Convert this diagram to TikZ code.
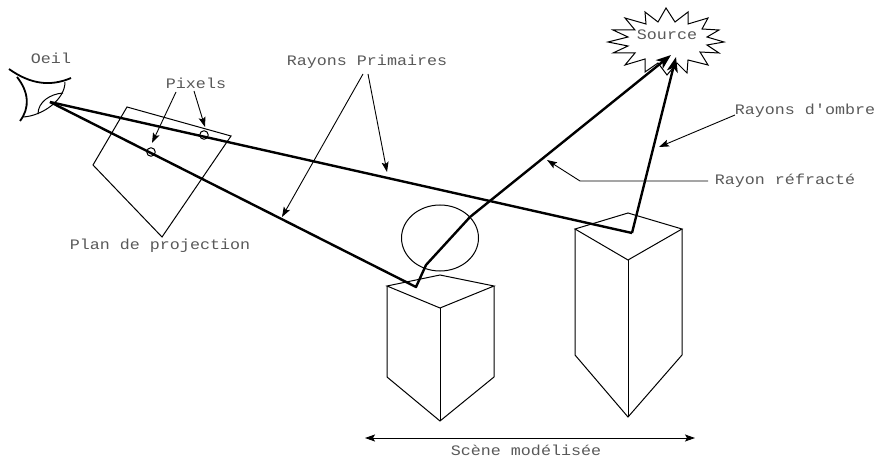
\documentclass[tikz,border=0pt]{standalone}
\usepackage{fontspec}
\setmonofont[FakeStretch=1.15]{Liberation Mono}
\usetikzlibrary{arrows.meta}

\begin{document}
\begin{tikzpicture}[
    x=1pt, y=-1pt,
    edge/.style={line width=1pt, black},
    ray/.style={line width=2.4pt, black, line join=round},
    raytip/.style={ray, -{Stealth[length=15pt, width=11pt, inset=4pt]}},
    pointer/.style={line width=0.9pt, black, -{Stealth[length=10pt, width=7pt, inset=2pt]}},
    pointerboth/.style={line width=0.9pt, black, {Stealth[length=10pt, width=7pt, inset=2pt]}-{Stealth[length=10pt, width=7pt, inset=2pt]}},
    caption/.style={font=\ttfamily\fontsize{14.5}{16}\selectfont, text=black!65, inner sep=0pt},
    pixel/.style={circle, draw=black, line width=1pt, minimum size=8.5pt, inner sep=0pt}
]
\useasboundingbox (0,0) rectangle (875,457);

%=== EYE ===
\coordinate (eye) at (50,102);
\draw[line width=1.8pt] (9,69) .. controls (30,84) and (50,87) .. (71,78);
\draw[line width=1.8pt] (17,77) .. controls (29,92) and (30,108) .. (20,121);
\draw[edge] (65,82) .. controls (65,100) and (42,116) .. (23,117);
\draw[edge] (63,93) .. controls (50,94) and (38,102) .. (38,114);

%=== PROJECTION PLANE ===
\draw[edge] (127,107) -- (231,136) -- (162,237) -- (93,165) -- cycle;
\node[pixel] (pixA) at (151,152) {};
\node[pixel] (pixB) at (204,135) {};

%=== SOURCE ===
\draw[edge] (666,8) -- (675,22) -- (688,12) -- (688,24) -- (708,18) -- (702,29)
    -- (719,30) -- (707,37) -- (724,42) -- (707,45) -- (719,53) -- (700,52)
    -- (708,65) -- (688,60) -- (687,73) -- (677,63) -- (667,75) -- (658,63)
    -- (645,72) -- (645,59) -- (625,65) -- (635,53) -- (613,53) -- (628,46)
    -- (608,42) -- (628,37) -- (613,30) -- (635,30) -- (625,18) -- (646,24)
    -- (645,12) -- (658,22) -- cycle;
\node[caption] (source) at (667,35) {Source};

%=== LEFT PRISM AND SPHERE ===
\draw[edge] (440,238) ellipse (38.5 and 33);
\draw[edge] (387,286) -- (440,275) -- (494,286) -- (440,308) -- cycle;
\draw[edge] (387,286) -- (387,377) -- (440,421) -- (494,377) -- (494,286);
\draw[edge] (440,308) -- (440,421);

%=== RIGHT PRISM ===
\draw[edge] (575,229) -- (628,213) -- (682,229) -- (628,260) -- cycle;
\draw[edge] (575,229) -- (575,355) -- (628,417) -- (682,355) -- (682,229);
\draw[edge] (628,260) -- (628,417);

%=== RAYS ===
\coordinate (hitL) at (416,287);
\coordinate (bendIn) at (426,265);
\coordinate (bendOut) at (470,217);
\coordinate (hitR) at (632,233);
\coordinate (tipL) at (671,55);
\coordinate (tipR) at (676,57);
\draw[ray] (eye) -- (hitR);
\draw[ray] (eye) -- (hitL) -- (bendIn) -- (bendOut);
\draw[raytip] (bendOut) -- (tipL);
\draw[raytip] (hitR) -- (tipR);

%=== LABELS ===
\node[caption] (oeil) at (51,58) {Oeil};
\node[caption] (pixels) at (196,83) {Pixels};
\node[caption] (plan) at (160,246) {Plan de projection};
\node[caption] (primaires) at (367,62) {Rayons Primaires};
\node[caption] (ombre) at (805,111) {Rayons d'ombre};
\node[caption] (refracte) at (785,181) {Rayon réfracté};
\node[caption] (scene) at (526,450) {Scène modélisée};

%=== POINTERS ===
\coordinate (pixFromA) at (176,92);
\coordinate (pixFromB) at (194,91);
\coordinate (pixToA) at (152,143);
\coordinate (pixToB) at (205,127);
\coordinate (primFromA) at (363,74);
\coordinate (primFromB) at (368,74);
\coordinate (primToA) at (282,217);
\coordinate (primToB) at (387,172);
\coordinate (ombreFrom) at (735,115);
\coordinate (ombreTo) at (659,147);
\coordinate (refrFrom) at (708,181);
\coordinate (refrKnee) at (580,181);
\coordinate (refrTo) at (547,160);
\coordinate (sceneL) at (365,438);
\coordinate (sceneR) at (695,438);
\draw[pointer] (pixFromA) -- (pixToA);
\draw[pointer] (pixFromB) -- (pixToB);
\draw[pointer] (primFromA) -- (primToA);
\draw[pointer] (primFromB) -- (primToB);
\draw[pointer] (ombreFrom) -- (ombreTo);
\draw[pointer] (refrFrom) -- (refrKnee) -- (refrTo);
\draw[pointerboth] (sceneL) -- (sceneR);

\end{tikzpicture}
\end{document}
